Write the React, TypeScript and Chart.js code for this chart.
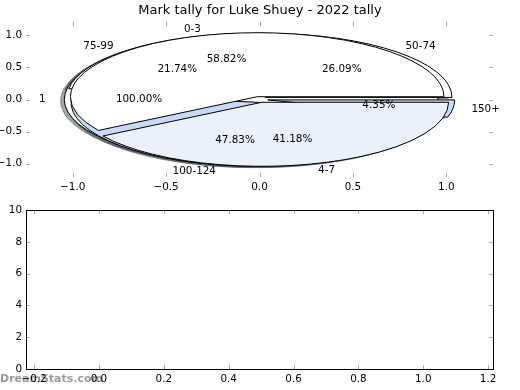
import React, { useEffect, useRef } from "react";
import { Chart, registerables } from "chart.js";

Chart.register(...registerables);

// ---- data ----
const titleText = "Mark tally for Luke Shuey - 2022 tally";

// pies in drawing order (first drawn = bottom-most)
const pieCLabels = ["1"];
const pieCValues = [1];
const pieCColors = ["#ffffff"];

const pieBLabels = ["50-74", "75-99", "100-124", "150+"];
const pieBValues = [6, 5, 11, 1];
const pieBColors = ["#ffffff", "#ffffff", "#c8daf7", "#c8daf7"];

const pieALabels = ["0-3", "4-7"];
const pieAValues = [10, 7];
const pieAColors = ["#ffffff", "#eaf1fc"];

const explodeDist = 0.045;
const shadowOffset = -0.02;

const pieXTicks = [-1, -0.5, 0, 0.5, 1];
const pieYTicks = [-1, -0.5, 0, 0.5, 1];
const barXTicks = [-0.2, 0, 0.2, 0.4, 0.6, 0.8, 1.0, 1.2];
const barYTicks = [0, 2, 4, 6, 8, 10];
const watermark = "DreamStats.com";

const FONT = "DejaVu Sans";
const tickFont = { family: FONT, size: 10.4 };

const fmt1 = (v: number) => {
  const s = Number(v).toFixed(1);
  return s.startsWith("-") ? "\u2212" + s.slice(1) : s;
};

const pies = [
  { labels: pieCLabels, values: pieCValues, colors: pieCColors },
  { labels: pieBLabels, values: pieBValues, colors: pieBColors },
  { labels: pieALabels, values: pieAValues, colors: pieAColors },
];

function hexToRgb(h: string) {
  const n = parseInt(h.slice(1), 16);
  return [(n >> 16) & 255, (n >> 8) & 255, n & 255];
}

function wedgePath(ctx: CanvasRenderingContext2D, cx: number, cy: number, rx: number, ry: number, t1: number, t2: number, full: boolean) {
  ctx.beginPath();
  if (full) {
    ctx.ellipse(cx, cy, rx, ry, 0, 0, Math.PI * 2);
  } else {
    ctx.moveTo(cx, cy);
    ctx.ellipse(cx, cy, rx, ry, 0, -t1, -t2, true);
    ctx.closePath();
  }
}

const piePlugin = {
  id: "ellipsePies",
  beforeDatasetsDraw(chart: any) {
    const { ctx } = chart;
    const x = chart.scales.x;
    const y = chart.scales.y;
    const cx0 = x.getPixelForValue(0);
    const cy0 = y.getPixelForValue(0);
    const rx = x.getPixelForValue(1) - cx0;
    const ry = cy0 - y.getPixelForValue(1);
    const wedges: any[] = [];
    pies.forEach((p) => {
      const total = p.values.reduce((a, b) => a + b, 0);
      let acc = 0;
      p.values.forEach((v, i) => {
        const frac = v / total;
        const t1 = acc * Math.PI * 2;
        const t2 = (acc + frac) * Math.PI * 2;
        const mid = (t1 + t2) / 2;
        wedges.push({
          t1, t2, mid, frac,
          color: p.colors[i],
          label: p.labels[i],
          ox: explodeDist * Math.cos(mid),
          oy: explodeDist * Math.sin(mid),
        });
        acc += frac;
      });
    });
    ctx.save();
    // shadows
    wedges.forEach((w) => {
      const [r, g, b] = hexToRgb(w.color);
      const c = `rgba(${Math.round(r * 0.3)},${Math.round(g * 0.3)},${Math.round(b * 0.3)},0.5)`;
      wedgePath(ctx, x.getPixelForValue(w.ox + shadowOffset), y.getPixelForValue(w.oy + shadowOffset), rx, ry, w.t1, w.t2, w.frac >= 0.99999);
      ctx.fillStyle = c;
      ctx.fill();
      ctx.strokeStyle = c;
      ctx.lineWidth = 1;
      ctx.stroke();
    });
    // wedges
    wedges.forEach((w) => {
      wedgePath(ctx, x.getPixelForValue(w.ox), y.getPixelForValue(w.oy), rx, ry, w.t1, w.t2, w.frac >= 0.99999);
      ctx.fillStyle = w.color;
      ctx.fill();
      ctx.strokeStyle = "#000";
      ctx.lineWidth = 1;
      ctx.stroke();
    });
    // texts
    ctx.fillStyle = "#000";
    ctx.font = `10.4px "${FONT}"`;
    ctx.textBaseline = "middle";
    wedges.forEach((w) => {
      const lx = w.ox + 1.1 * Math.cos(w.mid);
      const ly = w.oy + 1.1 * Math.sin(w.mid);
      ctx.textAlign = lx > 0 ? "left" : "right";
      ctx.fillText(w.label, x.getPixelForValue(lx), y.getPixelForValue(ly));
      const px = w.ox + 0.6 * Math.cos(w.mid);
      const py = w.oy + 0.6 * Math.sin(w.mid);
      ctx.textAlign = "center";
      ctx.fillText((w.frac * 100).toFixed(2) + "%", x.getPixelForValue(px), y.getPixelForValue(py));
    });
    ctx.restore();
  },
};

const insideTicks = {
  id: "insideTicks",
  afterDraw(chart: any) {
    const { ctx, chartArea } = chart;
    const x = chart.scales.x;
    const y = chart.scales.y;
    ctx.save();
    ctx.strokeStyle = "#a8a8a8";
    ctx.lineWidth = 1;
    ctx.beginPath();
    x.ticks.forEach((t: any) => {
      const px = Math.round(x.getPixelForValue(t.value)) + 0.5;
      ctx.moveTo(px, chartArea.top);
      ctx.lineTo(px, chartArea.top + 4);
      ctx.moveTo(px, chartArea.bottom);
      ctx.lineTo(px, chartArea.bottom - 4);
    });
    y.ticks.forEach((t: any) => {
      const py = Math.round(y.getPixelForValue(t.value)) + 0.5;
      ctx.moveTo(chartArea.left, py);
      ctx.lineTo(chartArea.left + 4, py);
      ctx.moveTo(chartArea.right, py);
      ctx.lineTo(chartArea.right - 4, py);
    });
    ctx.stroke();
    ctx.restore();
  },
};

const frame = {
  id: "frame",
  afterDraw(chart: any) {
    const { ctx, chartArea } = chart;
    ctx.save();
    ctx.strokeStyle = "#000";
    ctx.lineWidth = 1;
    ctx.strokeRect(Math.round(chartArea.left) + 0.5, Math.round(chartArea.top) + 0.5,
      Math.round(chartArea.right - chartArea.left), Math.round(chartArea.bottom - chartArea.top));
    ctx.restore();
  },
};

const watermarkPlugin = {
  id: "watermark",
  beforeDraw(chart: any) {
    const { ctx } = chart;
    ctx.save();
    ctx.fillStyle = "#9a9a9a";
    ctx.font = `bold 11px "${FONT}"`;
    ctx.textAlign = "left";
    ctx.textBaseline = "middle";
    ctx.fillText(watermark, 0, 179);
    ctx.restore();
  },
};

function axis(min: number, max: number, ticks: number[], fmt: (v: number) => string, fit: (s: any) => void, padding: number) {
  return {
    type: "linear" as const,
    min,
    max,
    afterBuildTicks: (s: any) => {
      s.ticks = ticks.map((v) => ({ value: v }));
    },
    afterFit: fit,
    grid: { display: false, drawTicks: false },
    border: { display: false },
    ticks: {
      font: tickFont,
      color: "#000",
      padding,
      maxRotation: 0,
      autoSkip: false,
      callback: (v: any) => fmt(Number(v)),
    },
  };
}

// invisible right-hand spacer axis so that the title is centred on the full figure
const spacerAxis = {
  type: "linear" as const,
  position: "right" as const,
  min: -1.21,
  max: 1.21,
  grid: { display: false, drawTicks: false },
  border: { display: false },
  ticks: { display: false },
  afterFit: (s: any) => { s.width = 27; },
};

export default function App() {
  const topRef = useRef<HTMLCanvasElement>(null);
  const botRef = useRef<HTMLCanvasElement>(null);

  useEffect(() => {
    const top = new Chart(topRef.current!, {
      type: "scatter",
      data: { datasets: [{ data: [] }] },
      options: {
        responsive: false,
        animation: false,
        layout: { padding: { left: 0, right: 0, top: 0, bottom: 0 } },
        plugins: {
          legend: { display: false },
          tooltip: { enabled: false },
          title: {
            display: true,
            text: titleText,
            color: "#000",
            font: { family: FONT, size: 13, weight: "normal" },
            padding: { top: 3, bottom: 3.4 },
          },
        },
        scales: {
          x: axis(-1.25, 1.25, pieXTicks, fmt1, (s: any) => { s.height = 23; }, 4),
          y: axis(-1.21, 1.21, pieYTicks, fmt1, (s: any) => { s.width = 26; }, 4),
          yr: spacerAxis,
        },
      },
      plugins: [piePlugin, insideTicks],
    });

    const bot = new Chart(botRef.current!, {
      type: "scatter",
      data: { datasets: [{ data: [] }] },
      options: {
        responsive: false,
        animation: false,
        layout: { padding: { left: 0, right: 27, top: 10, bottom: 0 } },
        plugins: {
          legend: { display: false },
          tooltip: { enabled: false },
        },
        scales: {
          x: axis(-0.225, 1.215, barXTicks, fmt1, (s: any) => { s.height = 21; }, 4),
          y: axis(0, 10, barYTicks, (v) => String(Math.round(v)), (s: any) => { s.width = 26; }, 4),
        },
      },
      plugins: [watermarkPlugin, insideTicks, frame],
    });

    return () => {
      top.destroy();
      bot.destroy();
    };
  }, []);

  return (
    <div style={{ position: "fixed", left: 0, top: 0, width: 520, height: 390, background: "#fff" }}>
      <canvas ref={topRef} width={520} height={200} style={{ position: "absolute", left: 0, top: 0, display: "block" }} />
      <canvas ref={botRef} width={520} height={190} style={{ position: "absolute", left: 0, top: 200, display: "block" }} />
    </div>
  );
}
